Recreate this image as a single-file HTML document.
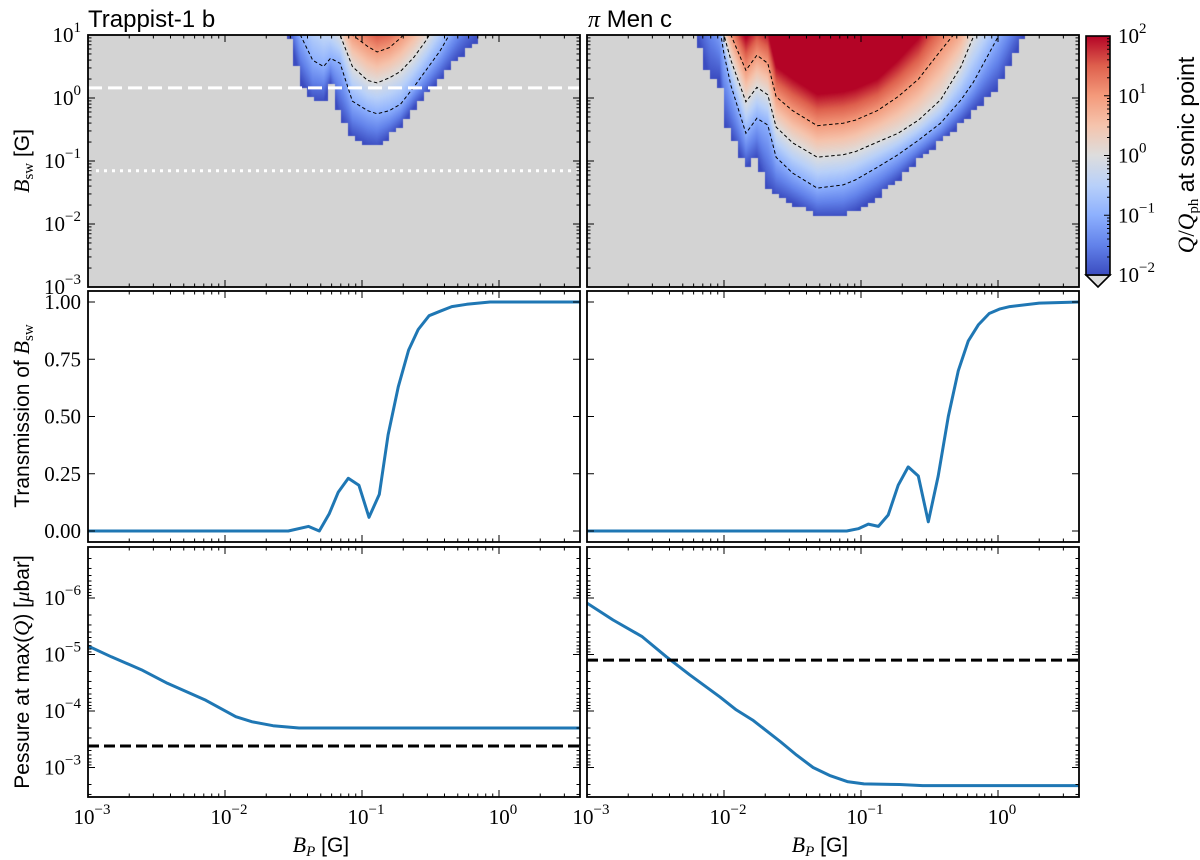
<!DOCTYPE html>
<html>
<head>
<meta charset="utf-8">
<style>
  html,body{margin:0;padding:0;background:#fff;}
  #wrap{position:relative;width:1200px;height:860px;overflow:hidden;}
  canvas{position:absolute;}
  svg{position:absolute;left:0;top:0;}
</style>
</head>
<body>
<div id="wrap">
  <canvas id="hmL" width="492" height="252" style="left:88px;top:35px"></canvas>
  <canvas id="hmR" width="492" height="252" style="left:587px;top:35px"></canvas>
  <svg id="fig" width="1200" height="860"></svg>
</div>
<script>
// ---------------- DATA ----------------
const leftGrid   = [-1.6,-1.53,-1.45,-1.36,-1.28,-1.23,-1.16,-1.07,-0.96,-0.89,-0.8,-0.72,-0.62,-0.53,-0.43,-0.31,-0.16,-0.05];
const leftBottom = [1.5,1.0,0.29,-0.06,-0.06,0.24,-0.3,-0.62,-0.75,-0.78,-0.62,-0.45,-0.15,0.05,0.29,0.6,0.92,1.5];
const leftC1     = [2,1.6,1.0,0.6,0.5,0.63,0.55,-0.05,-0.2,-0.25,-0.2,-0.1,0.18,0.45,0.75,1.2,1.8,2.2];
const leftC2     = [2.5,2.2,1.8,1.5,1.3,1.2,1.0,0.5,0.28,0.24,0.32,0.42,0.65,0.92,1.3,1.7,2.3,2.6];
const leftC3     = [3,2.8,2.5,2.2,1.9,1.7,1.3,1.0,0.82,0.73,0.8,0.95,1.2,1.5,1.8,2.2,2.6,3];

const rightGrid   = [-2.25,-2.2,-2.1,-2.03,-2.0,-1.95,-1.84,-1.76,-1.68,-1.62,-1.5,-1.32,-1.13,-1.04,-0.88,-0.73,-0.58,-0.42,-0.27,-0.18,0,0.19,0.3];
const rightBottom = [1.5,1.0,0.3,0.3,-0.4,-0.6,-1.1,-0.94,-1.45,-1.55,-1.67,-1.89,-1.89,-1.8,-1.57,-1.3,-0.98,-0.7,-0.4,-0.2,0.17,1.0,1.5];
const rightC1     = [2,2,1.6,1.1,0.7,0.2,-0.56,-0.32,-0.43,-0.94,-1.19,-1.43,-1.38,-1.3,-1.1,-0.9,-0.67,-0.4,-0.03,0.25,0.97,1.8,2.2];
const rightC2     = [2.5,2.5,2.0,1.3,1.0,0.6,-0.06,0.17,0.05,-0.46,-0.71,-0.94,-0.9,-0.85,-0.7,-0.56,-0.35,-0.03,0.5,0.97,1.6,2.3,2.6];
const rightC3     = [3,3,2.5,1.5,1.2,1.0,0.44,0.68,0.55,0.02,-0.2,-0.44,-0.4,-0.35,-0.2,0.02,0.3,0.75,1.15,1.6,2.2,2.8,3];

const bswDashed = 1.45;
const bswDotted = 0.07;

const transLeftBp  = [0.001,0.029,0.0406,0.0488,0.0577,0.0671,0.0794,0.095,0.1125,0.1337,0.155,0.184,0.219,0.257,0.309,0.372,0.452,0.581,0.859,3.9];
const transLeftVal = [0,0,0.02,0,0.076,0.17,0.23,0.20,0.06,0.16,0.42,0.63,0.79,0.88,0.94,0.96,0.98,0.99,1.0,1.0];
const transRightBp  = [0.001,0.0303,0.0787,0.0955,0.113,0.134,0.158,0.187,0.221,0.262,0.31,0.366,0.434,0.513,0.607,0.718,0.863,1.035,1.22,2.0,3.9];
const transRightVal = [0,0,0,0.01,0.03,0.02,0.07,0.2,0.28,0.24,0.04,0.24,0.50,0.70,0.83,0.90,0.95,0.97,0.98,0.995,1.0];

const presLeftBp  = [0.001,0.00148,0.00245,0.0038,0.00724,0.012,0.0158,0.0224,0.0347,3.9];
const presLeftVal = [7.08e-6,1.10e-5,1.86e-5,3.24e-5,6.46e-5,1.26e-4,1.55e-4,1.82e-4,2.0e-4,2.0e-4];
const presRightBp  = [0.001,0.00155,0.00251,0.0038,0.00562,0.00933,0.0123,0.0162,0.0257,0.0339,0.0447,0.0589,0.0794,0.105,0.191,0.282,3.9];
const presRightVal = [1.23e-6,2.45e-6,4.79e-6,1.10e-5,2.29e-5,5.62e-5,9.55e-5,1.45e-4,3.47e-4,6.03e-4,1.0e-3,1.38e-3,1.78e-3,1.95e-3,2.0e-3,2.09e-3,2.09e-3];
const presLeftRef  = 4.17e-4;
const presRightRef = 1.26e-5;

const xTickExps = [-3,-2,-1,0];
const topYTickExps = [1,0,-1,-2,-3];
const midYTicks = [1.00,0.75,0.50,0.25,0.00];
const botYTickExps = [-6,-5,-4,-3];
const cbTickExps = [2,1,0,-1,-2];

// ---------------- AXES ----------------
const NS='http://www.w3.org/2000/svg';
const svg=document.getElementById('fig');
const PX0={L:88,R:587}, PW=492, DEC=137;
const LXMIN=-3, LXMAX=-3+PW/DEC;
function xPx(side,bp){return PX0[side]+(Math.log10(bp)-LXMIN)*DEC;}
function xPxLog(side,lx){return PX0[side]+(lx-LXMIN)*DEC;}
const TOP={y0:35,y1:287}, MID={y0:291,y1:542}, BOT={y0:547,y1:797};
function yTopLog(ly){return 35+(1-ly)*63;}
function yTop(b){return yTopLog(Math.log10(b));}
function yMid(t){return 531-t*229;}
function yBot(p){return 598+(Math.log10(p)+6)*56.5;}

function mk(tag,attrs,parent){const e=document.createElementNS(NS,tag);for(const k in attrs)e.setAttribute(k,attrs[k]);(parent||svg).appendChild(e);return e;}

const defs=mk('defs',{});
function clip(id,x,y,w,h){const c=mk('clipPath',{id:id},defs);mk('rect',{x:x,y:y,width:w,height:h},c);}
['L','R'].forEach(s=>{clip('cT'+s,PX0[s],TOP.y0,PW,TOP.y1-TOP.y0);clip('cM'+s,PX0[s],MID.y0,PW,MID.y1-MID.y0);clip('cB'+s,PX0[s],BOT.y0,PW,BOT.y1-BOT.y0);});

// ---------- heatmap ----------
function interp(grid,arr,x){
  if(x<grid[0]||x>grid[grid.length-1])return null;
  for(let i=0;i<grid.length-1;i++){if(x>=grid[i]&&x<=grid[i+1]){const f=(x-grid[i])/(grid[i+1]-grid[i]);return arr[i]+f*(arr[i+1]-arr[i]);}}
  return null;
}
const cwStops=[[59,76,192],[98,130,234],[141,176,254],[184,208,249],[221,221,221],[245,196,173],[244,154,123],[222,96,77],[180,4,38]];
function cw(v){let t=(v+2)/4;t=Math.max(0,Math.min(1,t))*8;const i=Math.min(7,Math.floor(t));const f=t-i;const a=cwStops[i],b=cwStops[i+1];return [a[0]+(b[0]-a[0])*f,a[1]+(b[1]-a[1])*f,a[2]+(b[2]-a[2])*f];}
const CELLX=0.05, CELLY=0.07;
function drawHeat(id,grid,bot,c1,c2,c3){
  const cv=document.getElementById(id),ctx=cv.getContext('2d');
  const W=cv.width,H=cv.height,img=ctx.createImageData(W,H);
  for(let px=0;px<W;px++){
    const lx=LXMIN+(px+0.5)/DEC;
    const cx=LXMIN+(Math.floor((lx-LXMIN)/CELLX)+0.5)*CELLX;
    const bC=interp(grid,bot,cx);
    const b=interp(grid,bot,lx),v1=interp(grid,c1,lx),v2=interp(grid,c2,lx),v3=interp(grid,c3,lx);
    for(let py=0;py<H;py++){
      const ly=1-(py+0.5)/63;
      const cy=1-(Math.floor((1-ly)/CELLY)+0.5)*CELLY;
      let col=[211,211,211];
      if(bC!==null&&b!==null&&cy>=bC){
        let v;
        if(ly<v1){v=-2+Math.max(0,(ly-b))/Math.max(0.15,v1-b);v=Math.min(v,-1);}
        else if(ly<v2){v=-1+(ly-v1)/(v2-v1);}
        else if(ly<v3){v=(ly-v2)/(v3-v2);}
        else{v=1+(ly-v3)/Math.max(0.3,v3-v2);}
        col=cw(Math.max(-2,Math.min(2,v)));
      }
      const k=(py*W+px)*4;img.data[k]=col[0];img.data[k+1]=col[1];img.data[k+2]=col[2];img.data[k+3]=255;
    }
  }
  ctx.putImageData(img,0,0);
}
drawHeat('hmL',leftGrid,leftBottom,leftC1,leftC2,leftC3);
drawHeat('hmR',rightGrid,rightBottom,rightC1,rightC2,rightC3);

function contour(side,grid,arr,name){
  const pts=grid.map((g,i)=>xPxLog(side,g).toFixed(1)+','+yTopLog(arr[i]).toFixed(1)).join(' ');
  const p=mk('polyline',{points:pts,fill:'none',stroke:'#000','stroke-width':1,'stroke-dasharray':'3.5,2.5','clip-path':'url(#cT'+side+')'});
  
  
}
contour('L',leftGrid,leftC1,'contour-trappist-0.1');
contour('L',leftGrid,leftC2,'contour-trappist-1');
contour('L',leftGrid,leftC3,'contour-trappist-10');
contour('R',rightGrid,rightC1,'contour-pimen-0.1');
contour('R',rightGrid,rightC2,'contour-pimen-1');
contour('R',rightGrid,rightC3,'contour-pimen-10');

const wl1=mk('line',{x1:PX0.L,x2:PX0.L+PW,y1:yTop(bswDashed),y2:yTop(bswDashed),stroke:'#fff','stroke-width':3,'stroke-dasharray':'14,6'});


const wl2=mk('line',{x1:PX0.L,x2:PX0.L+PW,y1:yTop(bswDotted),y2:yTop(bswDotted),stroke:'#fff','stroke-width':3,'stroke-dasharray':'3,5'});



function series(side,clipId,xs,ys,yf,name){
  const pts=xs.map((x,i)=>xPx(side,x).toFixed(1)+','+yf(ys[i]).toFixed(1)).join(' ');
  const p=mk('polyline',{points:pts,fill:'none',stroke:'#1f77b4','stroke-width':3,'stroke-linejoin':'round','clip-path':'url(#'+clipId+')'});
  
  
}
series('L','cML',transLeftBp,transLeftVal,yMid,'transmission-line-trappist');
series('R','cMR',transRightBp,transRightVal,yMid,'transmission-line-pimen');
series('L','cBL',presLeftBp,presLeftVal,yBot,'pressure-line-trappist');
series('R','cBR',presRightBp,presRightVal,yBot,'pressure-line-pimen');
const r1=mk('line',{x1:PX0.L,x2:PX0.L+PW,y1:yBot(presLeftRef),y2:yBot(presLeftRef),stroke:'#000','stroke-width':3,'stroke-dasharray':'11,5'});


const r2=mk('line',{x1:PX0.R,x2:PX0.R+PW,y1:yBot(presRightRef),y2:yBot(presRightRef),stroke:'#000','stroke-width':3,'stroke-dasharray':'11,5'});



function tick(x1,y1,x2,y2,name){const t=mk('line',{x1:x1,y1:y1,x2:x2,y2:y2,stroke:'#000','stroke-width':1});
  
  }
function xTicks(side,P){
  for(let e=-3;e<=0;e++){for(let m=1;m<=9;m++){const lx=e+Math.log10(m);if(lx>LXMAX)continue;const x=xPxLog(side,lx);const L=m===1?7:3.5;
    tick(x,P.y1,x,P.y1-L,'x-tick');tick(x,P.y0,x,P.y0+L,'x-tick-top');}}
}
function logYTicks(side,P,yf,emin,emax){
  const x0=PX0[side],x1=x0+PW;
  for(let e=emin;e<=emax;e++){for(let m=1;m<=9;m++){const y=yf(Math.pow(10,e)*m);if(y<P.y0||y>P.y1)continue;const L=m===1?7:3.5;
    tick(x0,y,x0+L,y,'y-tick');tick(x1,y,x1-L,y,'y-tick-right');}}
}
['L','R'].forEach(s=>{
  xTicks(s,TOP);xTicks(s,MID);xTicks(s,BOT);
  logYTicks(s,TOP,yTop,-3,1);
  logYTicks(s,BOT,yBot,-7,-3);
  midYTicks.forEach(t=>{const y=yMid(t);tick(PX0[s],y,PX0[s]+7,y,'y-tick');tick(PX0[s]+PW,y,PX0[s]+PW-7,y,'y-tick-right');});
  [[TOP,'top'],[MID,'middle'],[BOT,'bottom']].forEach(([P,n])=>{
    const f=mk('rect',{x:PX0[s],y:P.y0,width:PW,height:P.y1-P.y0,fill:'none',stroke:'#000','stroke-width':1.8});
    
    
  });
});

function pow10(x,y,e,anchor,name){
  const t=mk('text',{x:x,y:y,'font-family':'"Liberation Serif",serif','font-size':21,'text-anchor':anchor,fill:'#000'});
  t.innerHTML='10<tspan dy="-10" font-size="15">'+(e<0?'\u2212'+(-e):e)+'</tspan>';
  
  
}
topYTickExps.forEach(e=>pow10(81,yTopLog(e)+7,e,'end','y-tick-label-top'));
botYTickExps.forEach(e=>pow10(81,yBot(Math.pow(10,e))+7,e,'end','y-tick-label-bottom'));
midYTicks.forEach(v=>{const t=mk('text',{x:81,y:yMid(v)+7,'font-family':'"Liberation Serif",serif','font-size':21,'text-anchor':'end'});t.textContent=v.toFixed(2);
  
  });
['L','R'].forEach(s=>xTickExps.forEach(e=>pow10(xPxLog(s,e)+4,824,e,'middle','x-tick-label')));

function txt(x,y,html,attrs,name){
  const t=mk('text',Object.assign({x:x,y:y,'font-family':'"Liberation Sans",sans-serif','font-size':21,fill:'#000'},attrs||{}));
  t.innerHTML=html;
  
  
  return t;
}
txt(88,27,'Trappist-1 b',{'font-size':24},'title-trappist');
txt(588,27,'<tspan font-family="Liberation Serif" font-style="italic">π</tspan> Men c',{'font-size':24},'title-pimen');
const bp='<tspan font-family="Liberation Serif" font-style="italic" font-size="22">B</tspan><tspan font-family="Liberation Serif" font-style="italic" font-size="15" dy="4">P</tspan><tspan dy="-4"> [G]</tspan>';
txt(xPxLog('L',-1.3),852,bp,{'text-anchor':'middle'},'x-axis-title-trappist');
txt(xPxLog('R',-1.3),852,bp,{'text-anchor':'middle'},'x-axis-title-pimen');
const bsw='<tspan font-family="Liberation Serif" font-style="italic" font-size="22">B</tspan><tspan font-family="Liberation Serif" font-size="15" dy="4">sw</tspan>';
txt(0,0,bsw+'<tspan dy="-4"> [G]</tspan>',{'text-anchor':'middle',transform:'translate(29,161) rotate(-90)'},'y-axis-title-bsw');
txt(0,0,'Transmission of '+bsw,{'text-anchor':'middle',transform:'translate(29,416) rotate(-90)'},'y-axis-title-transmission');
txt(0,0,'Pessure at max(<tspan font-family="Liberation Serif" font-style="italic">Q</tspan>) [<tspan font-family="Liberation Serif" font-style="italic">μ</tspan>bar]',{'text-anchor':'middle',transform:'translate(29,672) rotate(-90)'},'y-axis-title-pressure');

const lg=mk('linearGradient',{id:'cwg',x1:0,y1:1,x2:0,y2:0},defs);
cwStops.forEach((c,i)=>mk('stop',{offset:(i/8),'stop-color':'rgb('+c.join(',')+')'},lg));
const CB={x:1086,y0:36,y1:275,w:24};
function yCb(e){return CB.y1-(e+2)/4*(CB.y1-CB.y0);}
const tri=mk('path',{d:'M'+CB.x+','+CB.y1+' L'+(CB.x+CB.w)+','+CB.y1+' L'+(CB.x+CB.w/2)+',287 Z',fill:'#dcdcdc',stroke:'#000','stroke-width':1.6});


const cbr=mk('rect',{x:CB.x,y:CB.y0,width:CB.w,height:CB.y1-CB.y0,fill:'url(#cwg)',stroke:'#000','stroke-width':1.6});


for(let e=-2;e<2;e++){for(let m=1;m<=9;m++){const le=e+Math.log10(m);const y=yCb(le);const L=m===1?6:3;tick(CB.x+CB.w,y,CB.x+CB.w-L,y,'colorbar-tick');}}
cbTickExps.forEach(e=>pow10(1118,yCb(e)+7,e,'start','colorbar-tick-label'));
txt(0,0,'<tspan font-family="Liberation Serif" font-style="italic" font-size="23">Q</tspan><tspan font-family="Liberation Serif" font-size="23">/</tspan><tspan font-family="Liberation Serif" font-style="italic" font-size="23">Q</tspan><tspan font-family="Liberation Serif" font-size="15" dy="4">ph</tspan><tspan dy="-4"> at sonic point</tspan>',{'text-anchor':'middle','font-size':23,transform:'translate(1194,155) rotate(-90)'},'colorbar-title');
</script>
</body>
</html>
